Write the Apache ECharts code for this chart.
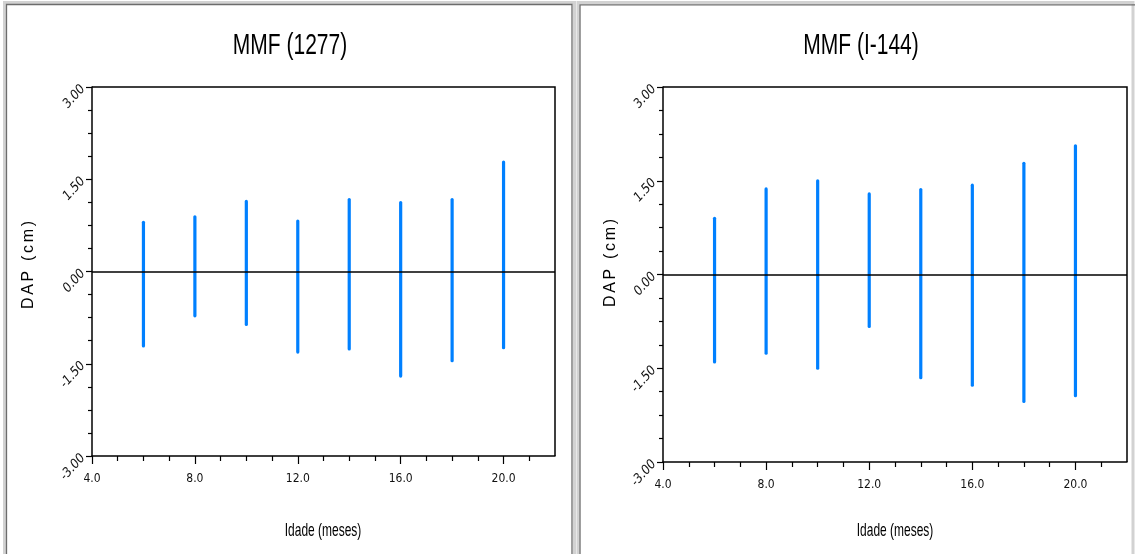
<!DOCTYPE html>
<html>
<head>
<meta charset="utf-8">
<script src="https://cdn.jsdelivr.net/npm/echarts@6/dist/echarts.min.js"></script>
<style>html,body{margin:0;padding:0;background:#fff}#c{width:1135px;height:554px}</style>
</head>
<body>
<div id="c"></div>
<script>
const ages = [6, 8, 10, 12, 14, 16, 18, 20];
const low1277 = [-1.21, -0.72, -0.86, -1.31, -1.26, -1.70, -1.45, -1.24];
const high1277 = [0.80, 0.89, 1.14, 0.82, 1.17, 1.12, 1.17, 1.78];
const lowI144 = [-1.40, -1.26, -1.50, -0.83, -1.65, -1.77, -2.03, -1.94];
const highI144 = [0.90, 1.37, 1.50, 1.29, 1.36, 1.43, 1.78, 2.06];
const xMajorTicks = [4, 8, 12, 16, 20];
const xMinorTicks = [5, 6, 7, 9, 10, 11, 13, 14, 15, 17, 18, 19, 21];
const chartTitles = ['MMF (1277)', 'MMF (I-144)'];
const xName = 'Idade (meses)';
const yName = 'D\u2006A\u2006P\u2006 \u2006(\u2006c\u2006m\u2006)';

const NARROW = "'Liberation Sans Narrow','DejaVu Sans Condensed',sans-serif";
const SANS = "'Liberation Sans',Arial,sans-serif";

const grids = [
  {left: 92, top: 87, width: 463, height: 369},
  {left: 663, top: 87, width: 464, height: 375}
];

function makeData(lo, hi) { return ages.map((a, i) => [a, lo[i], hi[i]]); }
const datasets = [makeData(low1277, high1277), makeData(lowI144, highI144)];

const xAxes = [], yAxes = [], series = [];
grids.forEach((g, i) => {
  xAxes.push({
    gridIndex: i, type: 'value', min: 4, max: 22, interval: 1,
    axisLine: {show: true, onZero: false, lineStyle: {color: '#000', width: 1.5}},
    axisTick: {show: true, length: 8, customValues: xMajorTicks, lineStyle: {color: '#000', width: 1.2}},
    axisLabel: {customValues: xMajorTicks, formatter: v => v.toFixed(1), color: '#111', fontFamily: NARROW, fontSize: 12, margin: 17},
    splitLine: {show: false}
  });
  xAxes.push({
    gridIndex: i, type: 'value', min: 4, max: 22, interval: 1, position: 'bottom',
    axisLine: {show: false, onZero: false},
    axisTick: {show: true, length: 5, customValues: xMinorTicks, lineStyle: {color: '#000', width: 1.2}},
    axisLabel: {show: false},
    splitLine: {show: false}
  });
  yAxes.push({
    gridIndex: i, type: 'value', min: -3, max: 3, interval: 1.5,
    axisLine: {show: true, onZero: false, lineStyle: {color: '#000', width: 1.5}},
    axisTick: {show: true, length: 6, lineStyle: {color: '#000', width: 1.2}},
    minorTick: {show: true, splitNumber: 4, length: 4, lineStyle: {color: '#000', width: 1.2}},
    axisLabel: {formatter: v => v.toFixed(2), rotate: 48, color: '#111', fontFamily: NARROW, fontStyle: 'italic', fontSize: 13, margin: 9},
    splitLine: {show: false}
  });
  series.push({
    type: 'custom', xAxisIndex: i * 2, yAxisIndex: i,
    data: datasets[i],
    renderItem: function (params, api) {
      const p1 = api.coord([api.value(0), api.value(1)]);
      const p2 = api.coord([api.value(0), api.value(2)]);
      return {type: 'line', shape: {x1: p1[0], y1: p1[1], x2: p2[0], y2: p2[1]},
        style: {stroke: '#0080ff', lineWidth: 3.2, lineCap: 'round'}};
    },
    markLine: {silent: true, symbol: 'none', label: {show: false},
      lineStyle: {color: '#000', width: 1.5, type: 'solid'},
      data: [{yAxis: 0}]},
    z: 3
  });
});

function txt(x, y, text, font, sx, rot) {
  return {type: 'text', x: x, y: y, scaleX: sx, rotation: rot || 0, silent: true,
    style: {text: text, font: font, fill: '#000', textAlign: 'center', textVerticalAlign: 'middle'}};
}

const graphic = [
  {type: 'rect', shape: {x: 4.5, y: 2.5, width: 570, height: 560}, style: {fill: 'none', stroke: '#d2d2d2', lineWidth: 3}, silent: true},
  {type: 'rect', shape: {x: 6.5, y: 4.5, width: 565.5, height: 560}, style: {fill: 'none', stroke: '#6c6c6c', lineWidth: 1.3}, silent: true},
  {type: 'rect', shape: {x: 578, y: 2.5, width: 555, height: 560}, style: {fill: 'none', stroke: '#d2d2d2', lineWidth: 3}, silent: true},
  {type: 'rect', shape: {x: 580, y: 4.8, width: 560, height: 560}, style: {fill: 'none', stroke: '#6c6c6c', lineWidth: 1.3}, silent: true},
  {type: 'polyline', shape: {points: [[92, 87], [555, 87], [555, 456]]}, style: {stroke: '#000', lineWidth: 1.5, fill: null}, silent: true},
  {type: 'polyline', shape: {points: [[663, 87], [1127, 87], [1127, 462]]}, style: {stroke: '#000', lineWidth: 1.5, fill: null}, silent: true},
  txt(290, 46, chartTitles[0], "30px " + SANS, 0.7),
  txt(861, 46, chartTitles[1], "30px " + SANS, 0.7),
  txt(323, 531, xName, "19px " + SANS, 0.63),
  txt(895, 531, xName, "19px " + SANS, 0.63),
  txt(29, 265, yName, "16px " + SANS, 1, Math.PI / 2),
  txt(611, 263, yName, "16px " + SANS, 1, Math.PI / 2)
];

const chart = echarts.init(document.getElementById('c'), null, {renderer: 'canvas'});
chart.setOption({
  animation: false,
  backgroundColor: '#fff',
  grid: grids,
  xAxis: xAxes,
  yAxis: yAxes,
  series: series,
  graphic: graphic
});
</script>
</body>
</html>
